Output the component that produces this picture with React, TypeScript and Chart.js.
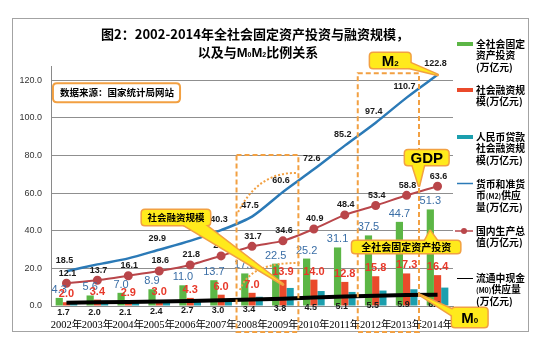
import React, { useEffect, useRef } from "react";
import { Chart, registerables } from "chart.js";

Chart.register(...registerables);

const years = ["2002年", "2003年", "2004年", "2005年", "2006年", "2007年", "2008年", "2009年", "2010年", "2011年", "2012年", "2013年", "2014年"];
const fixedAssetInvestment = [4.3, 5.6, 7.0, 8.9, 11.0, 13.7, 17.3, 22.5, 25.2, 31.1, 37.5, 44.7, 51.3];
const socialFinancing = [2.0, 3.4, 2.9, 3.0, 4.3, 6.0, 7.0, 13.9, 14.0, 12.8, 15.8, 17.3, 16.4];
const rmbLoans = [1.85, 2.77, 2.27, 2.35, 3.15, 3.63, 4.91, 9.59, 7.95, 7.47, 8.2, 8.89, 9.78];
const m2Supply = [18.5, 22.1, 25.3, 29.9, 34.6, 40.3, 47.5, 60.6, 72.6, 85.2, 97.4, 110.7, 122.8];
const gdp = [12.1, 13.7, 16.1, 18.6, 21.8, 26.6, 31.7, 34.6, 40.9, 48.4, 53.4, 58.8, 63.6];
const m0Supply = [1.7, 2.0, 2.1, 2.4, 2.7, 3.0, 3.4, 3.8, 4.5, 5.1, 5.5, 5.9, 6.0];
const m2LabelShown = [true, false, false, true, false, true, true, true, true, true, true, true, true];
const yTicks = [0, 20, 40, 60, 80, 100, 120];

const FONT_CJK = "'Noto Sans CJK SC', 'Noto Sans', sans-serif";
const FONT_NUM = "'Liberation Sans', Arial, sans-serif";
const ORANGE = "#f2a042";
const YELLOW = "#ffea1c";
const GREEN = "#5cb646";
const RED = "#ea4a2b";
const TEAL = "#1b9fae";
const BLUE = "#2b7ab7";
const GDPC = "#b9464a";

type Run = { t: string; size: number; fam?: string; dy?: number; w?: string };

function drawRuns(ctx: CanvasRenderingContext2D, runs: Run[], x: number, y: number, align: "left" | "center", color = "#000") {
  const widths = runs.map((r) => {
    ctx.font = `${r.w ?? "bold"} ${r.size}px ${r.fam ?? FONT_CJK}`;
    return ctx.measureText(r.t).width;
  });
  const total = widths.reduce((a, b) => a + b, 0);
  let cx = align === "center" ? x - total / 2 : x;
  ctx.textAlign = "left";
  ctx.textBaseline = "alphabetic";
  ctx.fillStyle = color;
  runs.forEach((r, k) => {
    ctx.font = `${r.w ?? "bold"} ${r.size}px ${r.fam ?? FONT_CJK}`;
    ctx.fillText(r.t, cx, y + (r.dy ?? 0));
    cx += widths[k];
  });
}

function rr(ctx: CanvasRenderingContext2D, x: number, y: number, w: number, h: number, r: number) {
  ctx.beginPath();
  ctx.moveTo(x + r, y);
  ctx.lineTo(x + w - r, y);
  ctx.quadraticCurveTo(x + w, y, x + w, y + r);
  ctx.lineTo(x + w, y + h - r);
  ctx.quadraticCurveTo(x + w, y + h, x + w - r, y + h);
  ctx.lineTo(x + r, y + h);
  ctx.quadraticCurveTo(x, y + h, x, y + h - r);
  ctx.lineTo(x, y + r);
  ctx.quadraticCurveTo(x, y, x + r, y);
  ctx.closePath();
}

const overlay = {
  id: "overlay",
  afterDatasetsDraw(chart: any) {
    const ctx: CanvasRenderingContext2D = chart.ctx;
    ctx.save();
    ctx.textAlign = "center";
    ctx.textBaseline = "middle";
    const mG = chart.getDatasetMeta(0);
    ctx.font = `11px ${FONT_NUM}`;
    ctx.fillStyle = "#3a6ea6";
    mG.data.forEach((el: any, i: number) => ctx.fillText(fixedAssetInvestment[i].toFixed(1), el.x, el.y - 8));
    const mR = chart.getDatasetMeta(1);
    ctx.font = `bold 11px ${FONT_NUM}`;
    ctx.fillStyle = "#e8392a";
    mR.data.forEach((el: any, i: number) => ctx.fillText(socialFinancing[i].toFixed(1), el.x, el.y - 8));
    ctx.font = `bold 9px ${FONT_NUM}`;
    ctx.fillStyle = "#1a1a1a";
    const mM2 = chart.getDatasetMeta(3);
    mM2.data.forEach((el: any, i: number) => {
      if (m2LabelShown[i]) ctx.fillText(m2Supply[i].toFixed(1), el.x - 2, el.y - 11);
    });
    const mGdp = chart.getDatasetMeta(4);
    mGdp.data.forEach((el: any, i: number) => ctx.fillText(gdp[i].toFixed(1), el.x + 1, el.y - 10));
    const mM0 = chart.getDatasetMeta(5);
    mM0.data.forEach((el: any, i: number) => ctx.fillText(m0Supply[i].toFixed(1), el.x - 3, el.y + 10));
    ctx.restore();
  },
  afterDraw(chart: any) {
    const ctx: CanvasRenderingContext2D = chart.ctx;
    const xs = chart.scales.x;
    const ys = chart.scales.y;
    const a = xs.getPixelForValue(0);
    const step = xs.getPixelForValue(1) - a;
    const X = (i: number) => a + step * i;
    const Y = (v: number) => ys.getPixelForValue(v);
    ctx.save();

    // frame
    ctx.strokeStyle = "#a3a3a3";
    ctx.lineWidth = 1;
    ctx.strokeRect(12.5, 18.5, 516, 313);

    // title
    drawRuns(ctx, [{ t: "图2：2002-2014年全社会固定资产投资与融资规模，", size: 13 }], 255, 39, "center");
    drawRuns(
      ctx,
      [
        { t: "以及与", size: 13 },
        { t: "M", size: 13, fam: FONT_NUM },
        { t: "0", size: 7, fam: FONT_NUM, dy: 0 },
        { t: "M", size: 13, fam: FONT_NUM },
        { t: "2", size: 7, fam: FONT_NUM, dy: 0 },
        { t: "比例关系", size: 13 },
      ],
      258,
      57,
      "center"
    );

    // dashed rectangles
    ctx.strokeStyle = ORANGE;
    ctx.lineWidth = 2;
    ctx.setLineDash([5, 3]);
    ctx.strokeRect(X(5.5), Y(80.2), X(7.5) - X(5.5), Y(-13.8) - Y(80.2));
    ctx.strokeRect(X(9.42), Y(123.7), X(11.4) - X(9.42), Y(-13.8) - Y(123.7));
    // dotted arcs
    ctx.setLineDash([2, 2]);
    ctx.beginPath();
    ctx.moveTo(X(5.55), Y(49.9));
    ctx.quadraticCurveTo(X(6.22), Y(71.4), X(7.46), Y(70.6));
    ctx.stroke();
    ctx.beginPath();
    ctx.moveTo(X(5.61), Y(8.5));
    ctx.quadraticCurveTo(X(5.94), Y(23.4), X(7.56), Y(22.8));
    ctx.stroke();
    ctx.setLineDash([]);

    // source box
    const sx0 = X(-0.437), sx1 = X(3.673), sy0 = Y(118.4), sy1 = Y(108.3);
    rr(ctx, sx0, sy0, sx1 - sx0, sy1 - sy0, 4);
    ctx.fillStyle = "#fff";
    ctx.fill();
    ctx.strokeStyle = ORANGE;
    ctx.lineWidth = 2;
    ctx.stroke();
    drawRuns(ctx, [{ t: "数据来源：国家统计局网站", size: 9.5 }], sx0 + 7, (sy0 + sy1) / 2 + 3.5, "left");

    const callout = (b: number[], ptr: number[][], runs: Run[], baseAdj: number) => {
      const x0 = X(b[0]), x1 = X(b[1]);
      const y0 = Math.min(Y(b[2]), Y(b[3])), y1 = Math.max(Y(b[2]), Y(b[3]));
      const pts = ptr.map((p) => [X(p[0]), Y(p[1])]);
      const ptrPath = () => {
        ctx.beginPath();
        ctx.moveTo(pts[0][0], pts[0][1]);
        for (let k = 1; k < pts.length; k++) ctx.lineTo(pts[k][0], pts[k][1]);
        ctx.closePath();
      };
      ctx.lineJoin = "round";
      ctx.strokeStyle = ORANGE;
      ctx.lineWidth = 3;
      rr(ctx, x0, y0, x1 - x0, y1 - y0, 3);
      ctx.stroke();
      ptrPath();
      ctx.stroke();
      ctx.fillStyle = YELLOW;
      rr(ctx, x0, y0, x1 - x0, y1 - y0, 3);
      ctx.fill();
      ptrPath();
      ctx.fill();
      drawRuns(ctx, runs, (x0 + x1) / 2, (y0 + y1) / 2 + baseAdj, "center");
    };

    callout([9.82, 11.12, 134.4, 126.4], [[10.9, 127.2], [11.05, 129.6], [12, m2Supply[12]]], [
      { t: "M", size: 15, fam: FONT_NUM },
      { t: "2", size: 8, fam: FONT_NUM },
    ], 5.5);
    callout([10.95, 12.35, 82.8, 74.9], [[11.18, 75.5], [11.57, 75.5], [11.4, 64]], [{ t: "GDP", size: 15, fam: FONT_NUM }], 5.5);
    callout([2.44, 4.64, 51.0, 43.0], [[3.74, 43.6], [4.45, 43.6], [7.0, 11.5]], [{ t: "社会融资规模", size: 9.5 }], 3.5);
    callout([9.24, 12.73, 34.5, 28.1], [[11.57, 33.9], [12.02, 33.9], [11.76, 39.8]], [{ t: "全社会固定资产投资", size: 10 }], 3.5);
    callout([12.47, 13.61, -1.06, -11.15], [[12.5, -2.1], [12.5, -5.3], [11.44, 5.84]], [
      { t: "M", size: 15, fam: FONT_NUM },
      { t: "0", size: 8, fam: FONT_NUM },
    ], 5.5);

    // legend
    const lx = 457, lw = 16, tx = 476, lh = 11.5;
    const txt = (lines: Run[][], y0: number) => {
      lines.forEach((ln, k) => drawRuns(ctx, ln, tx, y0 + k * lh + 3.5, "left"));
    };
    const S = 9.8;
    ctx.fillStyle = GREEN;
    ctx.fillRect(lx, 42, lw, 4);
    txt([[{ t: "全社会固定", size: S }], [{ t: "资产投资", size: S }], [{ t: "(万亿元)", size: S }]], 44);
    ctx.fillStyle = RED;
    ctx.fillRect(lx, 88, lw, 4);
    txt([[{ t: "社会融资规", size: S }], [{ t: "模(万亿元)", size: S }]], 90);
    ctx.fillStyle = TEAL;
    ctx.fillRect(lx, 135, lw, 4);
    txt([[{ t: "人民币贷款", size: S }], [{ t: "社会融资规", size: S }], [{ t: "模(万亿元)", size: S }]], 137);
    ctx.strokeStyle = BLUE;
    ctx.lineWidth = 1.5;
    ctx.beginPath();
    ctx.moveTo(lx, 183.5);
    ctx.lineTo(lx + lw, 183.5);
    ctx.stroke();
    txt([
      [{ t: "货币和准货", size: S }],
      [{ t: "币", size: S }, { t: "(M2)", size: 7 }, { t: "供应", size: S }],
      [{ t: "量(万亿元)", size: S }],
    ], 184);
    ctx.strokeStyle = GDPC;
    ctx.beginPath();
    ctx.moveTo(lx - 2, 231);
    ctx.lineTo(lx + lw, 231);
    ctx.stroke();
    ctx.fillStyle = GDPC;
    ctx.beginPath();
    ctx.arc(lx + lw / 2 - 1, 231, 3, 0, Math.PI * 2);
    ctx.fill();
    txt([[{ t: "国内生产总", size: S }], [{ t: "值(万亿元)", size: S }]], 231);
    ctx.strokeStyle = "#000";
    ctx.lineWidth = 1;
    ctx.beginPath();
    ctx.moveTo(lx, 278.5);
    ctx.lineTo(lx + lw, 278.5);
    ctx.stroke();
    txt([
      [{ t: "流通中现金", size: S }],
      [{ t: "(M0)", size: 7 }, { t: "供应量", size: S }],
      [{ t: "(万亿元)", size: S }],
    ], 278);

    ctx.restore();
  },
};

export default function App() {
  const ref = useRef<HTMLCanvasElement>(null);
  useEffect(() => {
    if (!ref.current) return;
    const chart = new Chart(ref.current, {
      type: "bar",
      data: {
        labels: years,
        datasets: [
          { type: "bar", label: "全社会固定资产投资(万亿元)", data: fixedAssetInvestment, backgroundColor: GREEN, order: 2 },
          { type: "bar", label: "社会融资规模(万亿元)", data: socialFinancing, backgroundColor: RED, order: 2 },
          { type: "bar", label: "人民币贷款社会融资规模(万亿元)", data: rmbLoans, backgroundColor: TEAL, order: 2 },
          { type: "line", label: "货币和准货币(M2)供应量(万亿元)", data: m2Supply, borderColor: BLUE, borderWidth: 2.5, pointRadius: 0, tension: 0.25, order: 1 },
          { type: "line", label: "国内生产总值(万亿元)", data: gdp, borderColor: GDPC, borderWidth: 2, pointRadius: 3.5, pointBackgroundColor: GDPC, pointBorderColor: GDPC, tension: 0.2, order: 1 },
          { type: "line", label: "流通中现金(M0)供应量(万亿元)", data: m0Supply, borderColor: "#000", borderWidth: 4, pointRadius: 0, tension: 0, order: 0 },
        ] as any,
      },
      options: {
        responsive: false,
        animation: false,
        devicePixelRatio: 1,
        layout: { padding: { left: 0, right: 94, top: 66, bottom: 0 } },
        plugins: { legend: { display: false }, tooltip: { enabled: false }, title: { display: false } },
        datasets: { bar: { categoryPercentage: 0.7, barPercentage: 1.0 } } as any,
        scales: {
          x: {
            grid: { display: false },
            border: { display: true, color: "#8a8a8a" },
            ticks: {
              autoSkip: false,
              maxRotation: 0,
              minRotation: 0,
              color: "#000",
              padding: 5,
              font: { family: "'Liberation Serif', 'Noto Sans CJK SC'", size: 10.5 },
            },
            afterFit: (s: any) => {
              s.height = 45;
            },
          },
          y: {
            min: 0,
            max: 127.5,
            afterBuildTicks: (s: any) => {
              s.ticks = yTicks.map((v) => ({ value: v }));
            },
            grid: { color: "#8f8f8f", lineWidth: 1, drawTicks: false },
            border: { display: true, color: "#8a8a8a" },
            ticks: {
              color: "#333",
              padding: 9,
              font: { family: FONT_NUM, size: 9 },
              callback: (v: any) => Number(v).toFixed(1),
            },
            afterFit: (s: any) => {
              s.width = 51;
            },
          },
        },
      },
      plugins: [overlay],
    });
    return () => chart.destroy();
  }, []);
  return (
    <div style={{ position: "absolute", left: 0, top: 0, width: 547, height: 351, background: "#fff" }}>
      <canvas ref={ref} width={547} height={351} style={{ display: "block" }} />
    </div>
  );
}
